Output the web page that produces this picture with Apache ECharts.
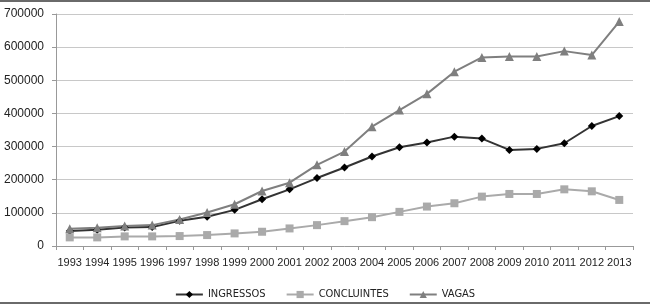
<!DOCTYPE html>
<html><head><meta charset="utf-8">
<script src="https://cdn.jsdelivr.net/npm/echarts@6/dist/echarts.min.js"></script>
<style>html,body{margin:0;padding:0;background:#fff}#c{width:650px;height:306px}</style>
</head><body><div id="c"></div>
<script>
const years = ['1993','1994','1995','1996','1997','1998','1999','2000','2001','2002','2003','2004','2005','2006','2007','2008','2009','2010','2011','2012','2013'];
const ingressos = [45000,49000,56000,57000,76000,88000,109000,141000,171000,205000,237000,270000,298000,312000,330000,324000,290000,293000,310000,362000,392000];
const concluintes = [26000,26000,29000,29000,30000,33000,38000,43000,53000,63000,75000,87000,103000,119000,129000,149000,157000,157000,171000,165000,139000];
const vagas = [52000,55000,60000,63000,80000,101000,126000,166000,191000,245000,285000,360000,410000,459000,526000,569000,572000,572000,588000,576000,677000];
const yTicks = [0,100000,200000,300000,400000,500000,600000,700000];

const chart = echarts.init(document.getElementById('c'));
const font = 'Liberation Sans, Arial, sans-serif';
const narrow = '"DejaVu Sans Condensed", "Liberation Sans Narrow", Liberation Sans, sans-serif';
chart.setOption({
  animation: false,
  textStyle: {fontFamily: font},
  graphic: [
    {type:'rect', shape:{x:0,y:0,width:650,height:2}, style:{fill:'#6a6a6a'}},
    {type:'rect', shape:{x:0,y:302,width:650,height:2}, style:{fill:'#6a6a6a'}}
  ],
  grid: {left:56, right:17, top:14, bottom:60, containLabel:false},
  legend: {
    top: 284, left: 'center', itemWidth: 27, itemHeight: 9, itemGap: 20,
    textStyle: {fontSize: 11, color: '#222', fontFamily: narrow},
    data: ['INGRESSOS','CONCLUINTES','VAGAS']
  },
  xAxis: {
    type: 'category', data: years, boundaryGap: true,
    axisLine: {lineStyle:{color:'#999'}},
    axisTick: {show:true, lineStyle:{color:'#999'}, length:4},
    axisLabel: {fontSize: 11, color:'#222', margin: 11, interval: 0}
  },
  yAxis: {
    type: 'value', min: 0, max: 700000, interval: 100000,
    axisLine: {show:true, lineStyle:{color:'#999'}},
    axisTick: {show:true, lineStyle:{color:'#999'}, length:4},
    axisLabel: {fontSize: 12, color:'#222', margin: 12, formatter: v => yTicks.includes(v) ? String(v) : ''},
    splitLine: {lineStyle:{color:'#c8c8c8'}}
  },
  series: [
    {name:'INGRESSOS', type:'line', data: ingressos, symbol:'diamond', symbolSize:8,
     lineStyle:{color:'#333', width:2}, itemStyle:{color:'#000'}},
    {name:'CONCLUINTES', type:'line', data: concluintes, symbol:'rect', symbolSize:8,
     lineStyle:{color:'#aaa', width:2}, itemStyle:{color:'#aaa'}},
    {name:'VAGAS', type:'line', data: vagas, symbol:'triangle', symbolSize:9,
     lineStyle:{color:'#7f7f7f', width:2}, itemStyle:{color:'#7f7f7f'}}
  ]
});
</script></body></html>
